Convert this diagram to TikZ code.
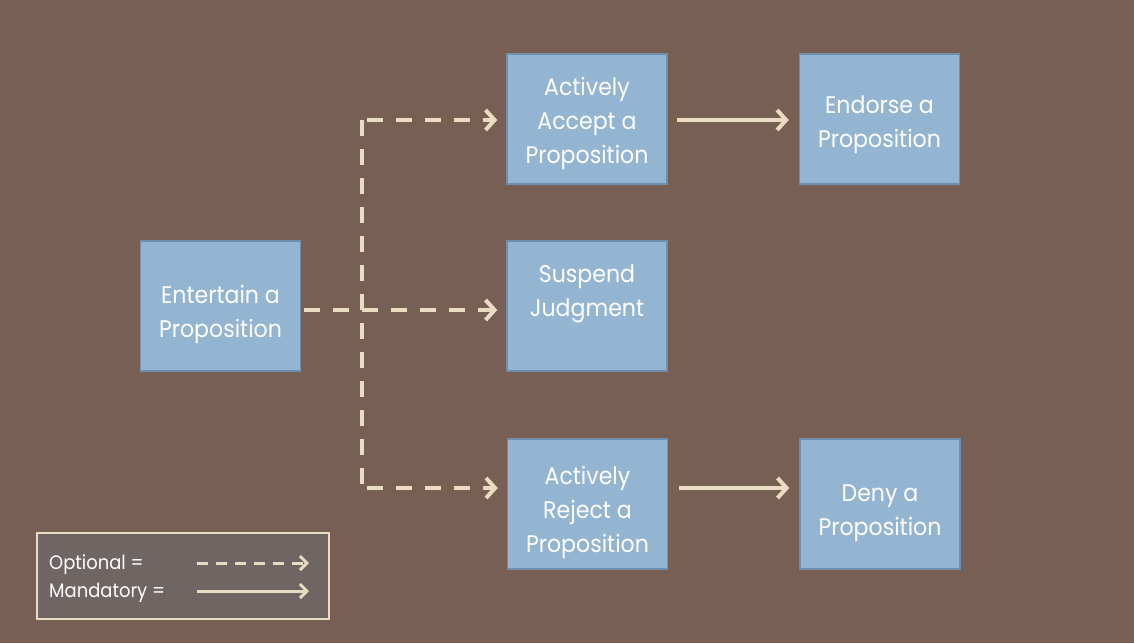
\documentclass[tikz,border=0pt]{standalone}
\usepackage{fontspec}
\setmainfont{Poppins}[FakeStretch=0.92]
\usetikzlibrary{arrows.meta}
\definecolor{bgbrown}{HTML}{785F54}
\definecolor{boxblue}{HTML}{94B5D2}
\definecolor{boxedge}{HTML}{6F8FAE}
\definecolor{cream}{HTML}{E9DCC2}
\definecolor{legendgrey}{HTML}{6F6563}
\tikzset{
  stepbox/.style={draw=boxedge, line width=1.5pt, fill=boxblue,
    minimum width=160pt, minimum height=130pt, inner sep=0pt},
  steptext/.style={text=white, align=center, inner sep=0pt,
    font=\fontsize{24pt}{34pt}\selectfont},
  opt/.style={draw=cream, line width=4pt, dash pattern=on 16pt off 13pt},
  mand/.style={draw=cream, line width=4pt},
  tip/.style={-{Straight Barb[length=9pt,width=20pt,line width=4pt]}},
  legtext/.style={text=white, anchor=west, inner sep=0pt, font=\fontsize{19.5pt}{20pt}\selectfont},
}
\begin{document}
\begin{tikzpicture}[x=1pt,y=-1pt]
\fill[bgbrown] (0,0) rectangle (1134,643);
\useasboundingbox (0,0) rectangle (1134,643);

\node[stepbox] (E) at (220.5,306) {};
\node[stepbox] (A) at (587,119) {};
\node[stepbox] (D) at (879.5,119) {};
\node[stepbox] (S) at (587,306) {};
\node[stepbox] (R) at (587.5,504) {};
\node[stepbox] (N) at (880,504) {};

\node[steptext] (Et) at ([yshift=-8pt]E.center) {Entertain a\\Proposition};
\node[steptext] (At) at ([yshift=-4pt]A.center) {Actively\\Accept a\\Proposition};
\node[steptext] (Dt) at ([yshift=-6pt]D.center) {Endorse a\\Proposition};
\node[steptext] (St) at ([yshift=12pt]S.center) {Suspend\\Judgment};
\node[steptext] (Rt) at ([yshift=-8.5pt]R.center) {Actively\\Reject a\\Proposition};
\node[steptext] (Nt) at ([yshift=-9pt]N.center) {Deny a\\Proposition};

\coordinate (vtop) at (362,120);
\coordinate (vbot) at (362,488);

\draw[opt] (vtop) -- (vbot);
\draw[opt,tip,shorten <=3pt,shorten >=9pt] (E.east |- 0,310) -- (S.west |- 0,310);
\draw[opt,tip,shorten <=5pt,shorten >=9pt] (vtop) -- (vtop -| A.west);
\draw[opt,tip,shorten <=5pt,shorten >=9pt] (vbot) -- (vbot -| R.west);
\draw[mand,tip,shorten <=9pt,shorten >=10pt] (A.east |- vtop) -- (D.west |- vtop);
\draw[mand,tip,shorten <=11pt,shorten >=10pt] (R.east |- vbot) -- (N.west |- vbot);

\node[draw=cream, line width=2pt, fill=legendgrey, minimum width=292pt, minimum height=86pt, inner sep=0pt] (L) at (183,576) {};
\node[legtext] (lo) at (49,565) {Optional =};
\node[legtext] (lm) at (49,593) {Mandatory =};
\coordinate (los) at (197,563);
\coordinate (loe) at (309,563);
\coordinate (lms) at (197,591);
\coordinate (lme) at (309,591);
\draw[draw=cream, line width=3pt, dash pattern=on 11pt off 8pt, -{Straight Barb[length=7pt,width=14pt,line width=3pt]}] (los) -- (loe);
\draw[draw=cream, line width=3pt, -{Straight Barb[length=7pt,width=14pt,line width=3pt]}] (lms) -- (lme);
\end{tikzpicture}
\end{document}
